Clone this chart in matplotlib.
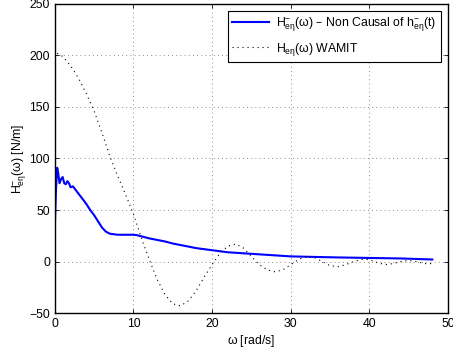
import matplotlib
matplotlib.use("Agg")
import matplotlib.pyplot as plt
import numpy as np

# non-causal kernel estimate
w_nc = [0, 0.15, 0.3, 0.45, 0.6, 0.8, 1.0, 1.2, 1.4, 1.6, 1.8, 2.0, 2.3, 2.6,
        3.0, 3.5, 4.0, 4.5, 5.0, 5.5, 6.0, 6.5, 7.0, 7.5, 8, 9, 10, 10.5, 11,
        12, 13, 14, 15, 16, 17, 18, 19, 20, 21, 22, 24, 26, 28, 30, 33, 36,
        40, 44, 48]
h_nc = [33, 70, 91, 85, 76, 80, 82, 76, 75, 78, 76, 72, 73, 70,
        66, 61, 56, 50, 45, 39, 33, 29, 27, 26.5, 26, 26, 26, 25.5, 24.5,
        22.5, 21, 19.5, 17.5, 16, 14.5, 13, 12, 11, 10, 9, 8, 7, 6, 5, 4.5, 4,
        3.5, 3, 2]

# WAMIT reference
w_wam = [0.3, 1, 2, 3, 4, 5, 6, 7, 8, 9, 10, 11, 12, 13, 14, 15, 16, 17, 18,
         19, 20, 21, 22, 23, 24, 25, 26, 27, 28, 29, 30, 31, 32, 33, 34, 35,
         36, 37, 38, 39, 40, 41, 42, 43, 44, 45, 46, 47, 48]
h_wam = [202, 199, 190, 178, 163, 146, 125, 102, 83, 65, 46, 23, 2, -17, -32,
         -41, -43, -38, -28, -15, -3, 8, 15, 17, 13, 5, -3, -8, -10, -8, -3, 2,
         5, 4, 0, -4, -5, -3, 0, 2, 2, -1, -3, -2, 0, 1, 0, -2, -2]

plt.rcParams.update({"font.family": ["Liberation Sans", "DejaVu Sans"],
                     "font.size": 8.8, "mathtext.default": "regular"})

fig = plt.figure(figsize=(4.53, 3.51), dpi=100)
ax = fig.add_axes([0.121, 0.108, 0.868, 0.881])

ax.plot(w_nc, h_nc, color="#0000ff", lw=1.5,
        label=r"$H^{-}_{e\eta}(\omega)$ – Non Causal of $h^{-}_{e\eta}(t)$")
ax.plot(w_wam, h_wam, color="black", lw=0.8, ls=(0, (1, 3.5)),
        label=r"$H_{e\eta}(\omega)$ WAMIT")

ax.set_xlim(0, 50); ax.set_ylim(-50, 250)
ax.set_xticks(np.arange(0, 51, 10)); ax.set_yticks(np.arange(-50, 251, 50))
ax.grid(True, color="black", ls=(0, (1, 4)), lw=0.6, alpha=0.6)
ax.tick_params(direction="in", top=True, right=True, length=3, width=0.6)
for s in ax.spines.values():
    s.set_linewidth(1.0)
ax.set_xlabel(r"$\omega$ [rad/s]", labelpad=2)
ax.set_ylabel(r"$H^{-}_{e\eta}(\omega)$ [N/m]", labelpad=0)
leg = ax.legend(loc="upper right", fancybox=False, edgecolor="black",
                framealpha=1, handlelength=3.0, borderaxespad=0.6,
                labelspacing=0.55, borderpad=0.35, handletextpad=0.6)
leg.get_frame().set_linewidth(0.8)

fig.savefig("out.png", dpi=100)
